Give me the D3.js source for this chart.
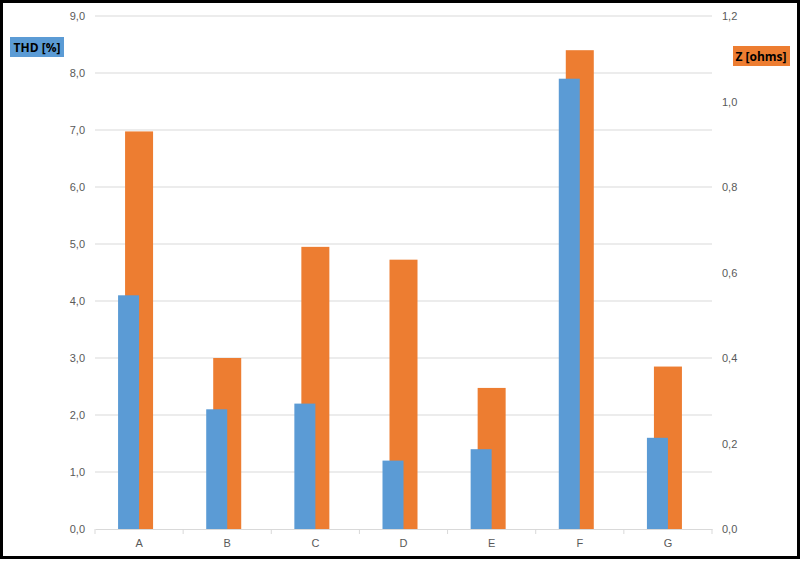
<!DOCTYPE html>
<html><head><meta charset="utf-8">
<script src="https://cdn.jsdelivr.net/npm/d3@7"></script>
<style>body{margin:0;background:#fff}svg{display:block;font-family:"Open Sans",Calibri,sans-serif}</style>
</head><body>
<script>
var categories = ["A","B","C","D","E","F","G"];
var thd = [4.1, 2.1, 2.2, 1.2, 1.4, 7.9, 1.6];
var zOhms = [0.93, 0.40, 0.66, 0.63, 0.33, 1.12, 0.38];
var leftTicks = [0,1,2,3,4,5,6,7,8,9];
var rightTicks = [0,0.2,0.4,0.6,0.8,1.0,1.2];

var width = 800, height = 561;
var plotLeft = 95, plotRight = 712, plotTop = 16, plotBottom = 529;

var svg = d3.select("body").append("svg").attr("width", width).attr("height", height);
svg.append("rect").attr("x",1.5).attr("y",1.5).attr("width",width-3).attr("height",height-5)
    .attr("fill","#fff").attr("stroke","#000").attr("stroke-width",3);

var x = d3.scaleBand().domain(categories).range([plotLeft, plotRight]);
var yL = d3.scaleLinear().domain([0, 9]).range([plotBottom, plotTop]);
var yR = d3.scaleLinear().domain([0, 1.2]).range([plotBottom, plotTop]);
var fmt = function(d){ return d3.format(".1f")(d).replace(".", ","); };

//gridlines
svg.selectAll(".grid").data(leftTicks.slice(1)).enter().append("line")
    .attr("x1", plotLeft).attr("x2", plotRight).attr("y1", d => yL(d)).attr("y2", d => yL(d))
    .attr("stroke", "#d9d9d9");

//orange behind, blue in front
svg.selectAll(".z").data(zOhms).enter().append("rect")
    .attr("x", (d,i) => x(categories[i]) + x.bandwidth()/2 - 14).attr("width", 28)
    .attr("y", d => yR(d)).attr("height", d => plotBottom - yR(d)).attr("fill", "#ed7d31");
svg.selectAll(".thd").data(thd).enter().append("rect")
    .attr("x", (d,i) => x(categories[i]) + x.bandwidth()/2 - 21).attr("width", 21)
    .attr("y", d => yL(d)).attr("height", d => plotBottom - yL(d)).attr("fill", "#5b9bd5");

//x axis
var xAxis = svg.append("g").attr("transform", "translate(0," + plotBottom + ")")
    .call(d3.axisBottom(x).tickSize(0).tickPadding(10));
xAxis.select(".domain").attr("stroke", "#d9d9d9");
xAxis.selectAll("text").attr("font-size", 11).attr("fill", "#595959");
svg.selectAll(".sep").data(d3.range(categories.length + 1)).enter().append("line")
    .attr("x1", i => plotLeft + i * x.step()).attr("x2", i => plotLeft + i * x.step())
    .attr("y1", plotBottom).attr("y2", plotBottom + 5).attr("stroke", "#d9d9d9");

//y axes
var la = svg.append("g").attr("transform", "translate(" + plotLeft + ",0)")
    .call(d3.axisLeft(yL).tickValues(leftTicks).tickFormat(fmt).tickSize(0).tickPadding(10));
la.select(".domain").remove();
la.selectAll("text").attr("font-size", 11).attr("fill", "#595959");
var ra = svg.append("g").attr("transform", "translate(" + plotRight + ",0)")
    .call(d3.axisRight(yR).tickValues(rightTicks).tickFormat(fmt).tickSize(0).tickPadding(10));
ra.select(".domain").remove();
ra.selectAll("text").attr("font-size", 11).attr("fill", "#595959");

//axis titles
svg.append("rect").attr("x", 10).attr("y", 37).attr("width", 54).attr("height", 20).attr("fill", "#5b9bd5");
svg.append("text").attr("x", 37).attr("y", 52).attr("text-anchor", "middle")
    .attr("font-size", 12).attr("font-weight", "bold").text("THD [%]");
svg.append("rect").attr("x", 733).attr("y", 46).attr("width", 57).attr("height", 20).attr("fill", "#ed7d31");
svg.append("text").attr("x", 761).attr("y", 61).attr("text-anchor", "middle")
    .attr("font-size", 12).attr("font-weight", "bold").text("Z [ohms]");
</script>
</body></html>
